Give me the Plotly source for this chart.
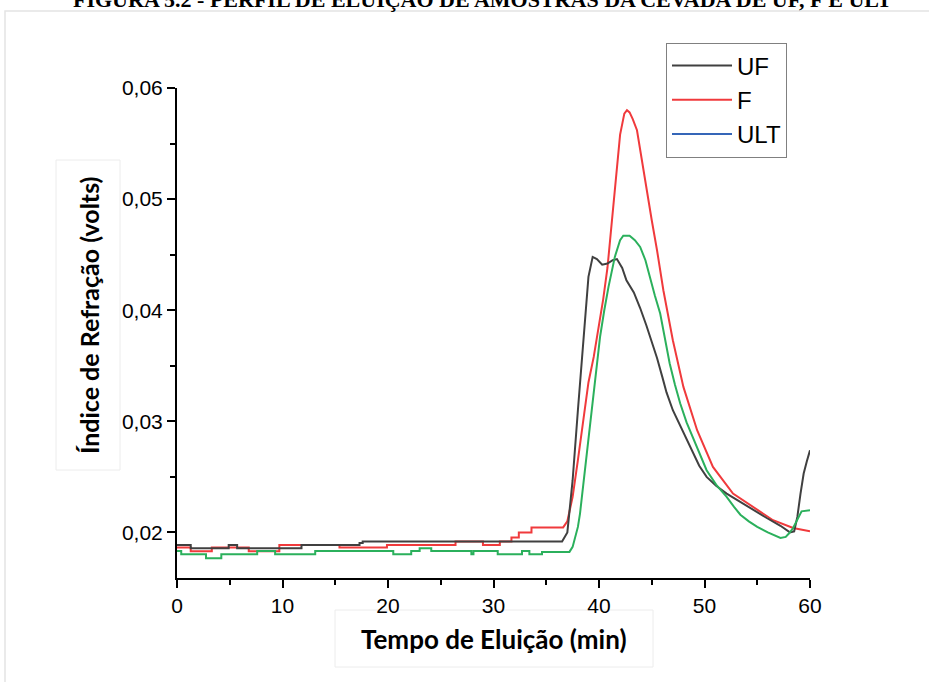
import plotly.graph_objects as go

# Elution profiles: time (min) vs refractive index signal (volts)
uf_t = [0, 1.3, 1.3, 4.9, 4.9, 5.7, 5.7, 11.8, 11.8, 17.3, 17.3, 17.6, 17.6, 36.5,
        37.0, 37.5, 38.0, 38.5, 39.0, 39.4, 39.8, 40.3, 40.8, 41.3, 41.7, 42.2, 42.6,
        43.3, 43.9, 44.5, 45.0, 45.5, 46.0, 46.4, 47.0, 47.7, 48.3, 48.9, 49.5, 50.2,
        51.1, 52.1, 53.3, 54.6, 55.9, 57.2, 58.1, 58.5, 58.8, 59.1, 59.4, 59.7, 60.0]
uf_v = [0.01888, 0.01888, 0.01858, 0.01858, 0.01888, 0.01888, 0.01858, 0.01858, 0.01888,
        0.01888, 0.01905, 0.01905, 0.01918, 0.01918,
        0.0200, 0.0247, 0.0310, 0.0367, 0.0430, 0.0448, 0.0446, 0.0441, 0.0442, 0.0445,
        0.0446, 0.0438, 0.0427, 0.0416, 0.0402, 0.0386, 0.0372, 0.0357, 0.0340, 0.0326,
        0.0310, 0.0296, 0.0283, 0.0271, 0.0260, 0.0250, 0.0242, 0.0235, 0.0228, 0.0220,
        0.0213, 0.0206, 0.0200, 0.0201, 0.0214, 0.0235, 0.0253, 0.0264, 0.0274]

f_t = [0, 1.3, 1.3, 3.3, 3.3, 6.8, 6.8, 9.7, 9.7, 15.4, 15.4, 19.9, 19.9, 26.4, 26.4,
       29.0, 29.0, 30.6, 30.6, 31.7, 31.7, 32.4, 32.4, 33.6, 33.6, 36.6,
       37.0, 37.5, 38.0, 38.5, 39.0, 39.5, 40.0, 40.4, 40.8, 41.2, 41.6, 42.0, 42.4,
       42.65, 42.9, 43.2, 43.6, 44.0, 44.5, 45.0, 45.5, 46.1, 47.0, 48.0, 49.3, 50.8,
       52.7, 54.6, 56.5, 58.4, 60.0]
f_v = [0.01864, 0.01864, 0.01830, 0.01830, 0.01864, 0.01864, 0.01830, 0.01830, 0.01888,
       0.01888, 0.01864, 0.01864, 0.01888, 0.01888, 0.01918, 0.01918, 0.01888, 0.01888,
       0.01918, 0.01918, 0.01955, 0.01955, 0.0200, 0.0200, 0.02045, 0.02045,
       0.0210, 0.0232, 0.0265, 0.0300, 0.0335, 0.0358, 0.0385, 0.0410, 0.0438, 0.0480,
       0.0520, 0.0558, 0.0577, 0.0580, 0.0578, 0.0572, 0.0562, 0.0538, 0.0508, 0.0481,
       0.0454, 0.0418, 0.0373, 0.0331, 0.0292, 0.0259, 0.0235, 0.0223, 0.0211, 0.0204,
       0.0201]

ult_t = [0, 0.4, 0.4, 2.75, 2.75, 4.2, 4.2, 7.6, 7.6, 9.3, 9.3, 13.1, 13.1, 20.5, 20.5,
         22.2, 22.2, 23.0, 23.0, 24.1, 24.1, 27.9, 27.9, 28.1, 28.1, 30.4, 30.4, 32.7,
         32.7, 33.4, 33.4, 34.6, 34.6, 37.2,
         37.5, 38.0, 38.2, 38.6, 39.1, 39.6, 40.1, 40.5, 40.9, 41.5, 42.0, 42.3, 42.9,
         43.4, 43.9, 44.4, 44.8, 45.3, 45.8, 46.2, 46.7, 47.2, 47.7, 48.3, 49.0, 49.6,
         50.2, 51.1, 52.1, 52.8, 53.4, 54.2, 55.0, 56.0, 56.8, 57.2, 57.7, 58.0, 58.4,
         58.8, 59.2, 60.0]
ult_v = [0.01833, 0.01833, 0.01803, 0.01803, 0.01767, 0.01767, 0.01803, 0.01803, 0.01833,
         0.01833, 0.01803, 0.01803, 0.01833, 0.01833, 0.01803, 0.01803, 0.01833, 0.01833,
         0.01858, 0.01858, 0.01833, 0.01833, 0.01803, 0.01803, 0.01833, 0.01833, 0.01803,
         0.01803, 0.01833, 0.01833, 0.01803, 0.01803, 0.01825, 0.01825,
         0.0187, 0.0205, 0.0217, 0.0250, 0.0292, 0.0335, 0.0376, 0.0400, 0.0421, 0.0448,
         0.0463, 0.0467, 0.0467, 0.0463, 0.0457, 0.0445, 0.0430, 0.0413, 0.0397, 0.0376,
         0.0352, 0.0333, 0.0316, 0.0299, 0.0283, 0.0269, 0.0256, 0.0243, 0.0232, 0.0223,
         0.0216, 0.0210, 0.0205, 0.0200, 0.0197, 0.0195, 0.0196, 0.0199, 0.0204, 0.0212,
         0.0219, 0.0220]

x_ticks = [0, 10, 20, 30, 40, 50, 60]
y_ticks = [0.02, 0.03, 0.04, 0.05, 0.06]

# plot area in page pixels
L, R, T, B = 177, 810, 88, 578
W, H = 929, 682


def px(x):
    return (x - L) / (R - L)


def py(y):
    return (B - y) / (B - T)


fig = go.Figure()
fig.add_trace(go.Scatter(x=f_t, y=f_v, mode="lines", name="F",
                         line=dict(color="#f03a3c", width=2), legendrank=2))
fig.add_trace(go.Scatter(x=uf_t, y=uf_v, mode="lines", name="UF",
                         line=dict(color="#404040", width=2), legendrank=1))
fig.add_trace(go.Scatter(x=ult_t, y=ult_v, mode="lines", name="ULT",
                         line=dict(color="#2bb05c", width=2), showlegend=False))
# legend key for ULT
fig.add_trace(go.Scatter(x=[None], y=[None], mode="lines", name="ULT",
                         line=dict(color="#3566b8", width=2), legendrank=3))

axis_common = dict(showgrid=False, zeroline=False, showline=True, linecolor="black",
                   linewidth=2, ticks="outside", ticklen=8, tickwidth=2,
                   tickcolor="black", mirror=False,
                   tickfont=dict(family="Liberation Sans, Arial", size=21, color="black"))

fig.update_xaxes(range=[0, 60], tickvals=x_ticks,
                 minor=dict(dtick=5, tick0=0, ticks="outside", ticklen=5,
                            tickwidth=2, tickcolor="black"),
                 **axis_common)
fig.update_yaxes(range=[0.0159, 0.06], tickvals=y_ticks, tickformat=".2f",
                 minor=dict(dtick=0.005, tick0=0, ticks="outside", ticklen=5,
                            tickwidth=2, tickcolor="black"),
                 **axis_common)

shapes = [
    # outer page frame
    dict(type="rect", xref="paper", yref="paper", x0=px(5), x1=px(940), y0=py(11),
         y1=py(700), line=dict(color="#e4e4e4", width=1.5), layer="below"),
    # title boxes
    dict(type="rect", xref="paper", yref="paper", x0=px(335), x1=px(653), y0=py(610),
         y1=py(667), line=dict(color="#ececec", width=1), layer="below"),
    dict(type="rect", xref="paper", yref="paper", x0=px(56), x1=px(120), y0=py(160),
         y1=py(470), line=dict(color="#ececec", width=1), layer="below"),
]

annotations = [
    dict(text="<b>FIGURA 5.2 - PERFIL DE ELUIÇÃO DE AMOSTRAS DA CEVADA DE UF, F E ULT</b>",
         xref="paper", yref="paper", x=px(482), y=py(-1), xanchor="center",
         yanchor="middle", showarrow=False,
         font=dict(family="Liberation Serif, Times New Roman", size=22, color="black")),
    dict(text="<b>Tempo de Eluição (min)</b>", xref="paper", yref="paper",
         x=px(494), y=py(639), xanchor="center", yanchor="middle", showarrow=False,
         font=dict(family="Lato, Open Sans", size=26, color="black")),
    dict(text="<b>Índice de Refração (volts)</b>", xref="paper", yref="paper",
         x=px(89), y=py(316), xanchor="center", yanchor="middle", showarrow=False,
         textangle=-90, font=dict(family="Lato, Open Sans", size=25, color="black")),
]

fig.update_layout(
    width=W, height=H,
    margin=dict(l=L, r=W - R, t=T, b=H - B),
    paper_bgcolor="white", plot_bgcolor="white",
    separators=",.",
    showlegend=True,
    legend=dict(x=px(666), y=py(100), xanchor="left", yanchor="middle",
                bordercolor="#808080", borderwidth=1, bgcolor="white",
                itemwidth=60, tracegroupgap=0,
                font=dict(family="Liberation Sans, Arial", size=24, color="black")),
    shapes=shapes,
    annotations=annotations,
)

fig.write_html("out.html")
